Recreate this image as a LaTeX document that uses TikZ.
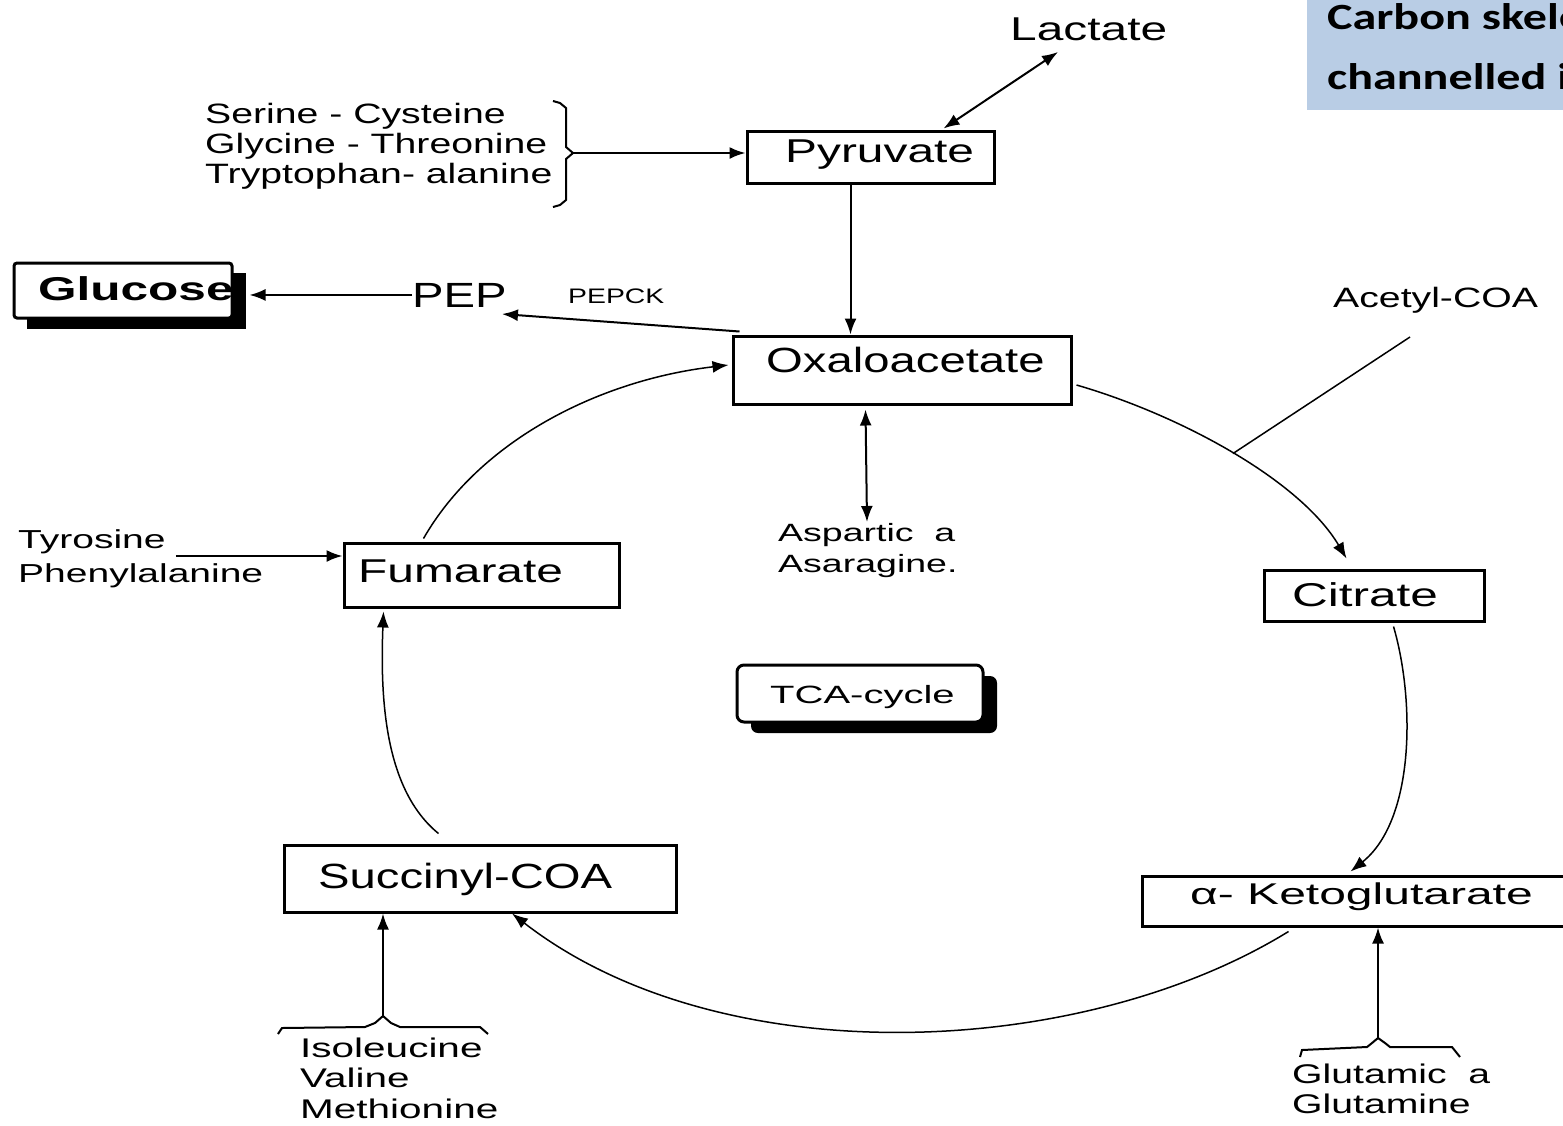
\documentclass[tikz,border=0pt]{standalone}
\usepackage{fontspec}
\setmainfont{Liberation Sans}
\newfontfamily\afA[FakeStretch=1.35]{Liberation Sans}
\newfontfamily\afE[FakeStretch=1.4]{Liberation Sans}
\newfontfamily\afB[FakeStretch=1.45]{Liberation Sans}
\newfontfamily\afC[FakeStretch=1.5]{Liberation Sans}
\newfontfamily\afD[FakeStretch=1.6]{Liberation Sans}
\newfontfamily\tf[FakeStretch=1.3]{Carlito}
\usetikzlibrary{arrows.meta,calc}
\newcommand{\fsz}[1]{\fontsize{#1}{#1}\selectfont}
\definecolor{titleblue}{HTML}{B9CDE5}
\begin{document}
\begin{tikzpicture}[x=1pt,y=-1pt,
 box/.style={draw,line width=3pt,fill=white,inner sep=0},
 lbl/.style={inner sep=0,anchor=base west},
 arr/.style={line width=2pt,-{Latex[length=16pt,width=12pt]}},
 darr/.style={line width=2pt,{Latex[length=16pt,width=12pt]}-{Latex[length=16pt,width=12pt]}},
 carr/.style={line width=1.5pt,-{Latex[length=16pt,width=12pt]}},
 brace/.style={line width=2pt},
 ]
\useasboundingbox (0,0) rectangle (1563,1125);
\begin{scope}
\clip (0,0) rectangle (1563,1125);
% title
\fill[titleblue] (1307,0) rectangle (1570,110);
\node[lbl,font=\tf\bfseries\fsz{37}] (title1) at (1327,29) {Carbon skeleton};
\node[lbl,font=\tf\bfseries\fsz{37}] (title2) at (1327,89) {channelled into};

% boxes
\node[box,minimum width=247pt,minimum height=52pt] (pyr) at (870.5,157) {};
\node[lbl,font=\afB\fsz{33}] (pyrt) at (785,162) {Pyruvate};

\fill (27,273) rectangle (246,329);
\node[box,rounded corners=3pt,minimum width=218pt,minimum height=55pt] (glc) at (123,290.5) {};
\node[lbl,font=\afC\bfseries\fsz{33}] (glct) at (38,300) {Glucose};

\node[box,minimum width=338pt,minimum height=68pt] (oaa) at (902,370) {};
\node[lbl,font=\afA\fsz{35}] (oaat) at (766,372) {Oxaloacetate};

\node[box,minimum width=220pt,minimum height=51pt] (cit) at (1374,595.5) {};
\node[lbl,font=\afC\fsz{33}] (citt) at (1292,606) {Citrate};

\node[box,minimum width=440pt,minimum height=50pt] (akg) at (1362,901) {};
\node[lbl,font=\afD\fsz{30}] (akgt) at (1190,904) {α- Ketoglutarate};

\node[box,minimum width=392pt,minimum height=67pt] (succ) at (480,878.5) {};
\node[lbl,font=\afA\fsz{35}] (succt) at (318,888) {Succinyl-COA};

\node[box,minimum width=275pt,minimum height=64pt] (fum) at (481.5,575) {};
\node[lbl,font=\afB\fsz{33}] (fumt) at (358,582) {Fumarate};

\fill[rounded corners=7pt] (751,676) rectangle (997,733);
\node[box,rounded corners=7pt,minimum width=246pt,minimum height=57pt] (tca) at (860,693.5) {};
\node[lbl,font=\afD\fsz{25}] (tcat) at (770,703) {TCA-cycle};

% free labels
\node[lbl,font=\afB\fsz{33}] (lac) at (1010,40) {Lactate};
\node[lbl,font=\afE\fsz{28}] (aa1) at (205,123) {Serine - Cysteine};
\node[lbl,font=\afE\fsz{28}] (aa2) at (205,153) {Glycine - Threonine};
\node[lbl,font=\afE\fsz{28}] (aa3) at (205,183) {Tryptophan- alanine};
\node[lbl,font=\afA\fsz{35}] (pep) at (412,307) {PEP};
\node[lbl,font=\afA\fsz{21}] (pepck) at (568,303) {PEPCK};
\node[lbl,font=\afE\fsz{28}] (acoa) at (1333,307) {Acetyl-COA};
\node[lbl,font=\afC\fsz{25}] (asp) at (778,541) {Aspartic\ \ a};
\node[lbl,font=\afC\fsz{25}] (asn) at (778,572) {Asaragine.};
\node[lbl,font=\afC\fsz{26}] (tyr) at (18,548) {Tyrosine};
\node[lbl,font=\afC\fsz{26}] (phe) at (18,582) {Phenylalanine};
\node[lbl,font=\afC\fsz{27}] (ile) at (300,1057) {Isoleucine};
\node[lbl,font=\afC\fsz{27}] (val) at (300,1087) {Valine};
\node[lbl,font=\afC\fsz{27}] (met) at (300,1118) {Methionine};
\node[lbl,font=\afB\fsz{27}] (glu) at (1292,1083) {Glutamic\ \ a};
\node[lbl,font=\afB\fsz{27}] (gln) at (1292,1113) {Glutamine};

% braces
\draw[brace] (553,101) -- (560,103) -- (566,108) -- (566,147) -- (573,153) coordinate (br) -- (566,159) -- (566,200) -- (560,205) -- (553,207);
\draw[brace] (278,1034) -- (282,1028) -- (365,1027) -- (375,1023) -- (383,1016) coordinate (ib) -- (391,1023) -- (400,1027) -- (480,1027) -- (488,1034);
\draw[brace] (1300,1057) -- (1302,1050) -- (1367,1047) -- (1372,1043) -- (1378,1038) coordinate (gb) -- (1385,1043) -- (1390,1047) -- (1452,1047) -- (1460,1057);

% straight connectors
\draw[arr] (br) -- (br -| pyr.west);
\draw[darr] ($(pyr.north west)+(198,-1)$) -- ($(lac.base west)+(48,12)$);
\draw[arr] ($(pyr.south west)+(105,0)$) -- ($(oaa.north west)+(119,0)$);
\draw[arr] (pep.west) -- ($(glc.east |- pep.west)+(16,0)$);
\draw[arr] ($(oaa.north west)+(8,-3)$) -- ($(pep.base east)+(-5,7)$);
\draw[darr] ($(oaa.south west)+(134,4)$) -- ($(asp.base west)+(89,-19)$);
\draw[arr] ($(tyr.base east)+(10,8)$) coordinate (ty) -- (ty -| fum.west);
\draw[arr] (ib) -- (ib |- succ.south);
\draw[arr] (gb) -- (gb |- akg.south);

% cycle curves
\draw[carr] ($(oaa.east)+(4,15)$) .. controls (1180,415) and (1300,480) .. ($(cit.north west)+(84,-10)$) coordinate[pos=0.5] (jn);
\draw[line width=1.5pt] ($(acoa.base west)+(77,30)$) -- (jn);
\draw[carr] ($(cit.south west)+(131,4)$) .. controls (1415,700) and (1415,820) .. ($(akg.north west)+(210,-3)$);
\draw[carr] ($(akg.south west)+(148,4)$) .. controls (1080,1060) and (720,1075) .. (succ.south -| 512,0);
\draw[carr] ($(succ.north west)+(156,-10)$) .. controls (385,790) and (380,700) .. ($(fum.south west)+(41,3)$);
\draw[carr] ($(fum.north west)+(81,-3)$) .. controls (480,440) and (600,380) .. ($(oaa.west)+(-3,-5)$);
\end{scope}
\end{tikzpicture}
\end{document}
